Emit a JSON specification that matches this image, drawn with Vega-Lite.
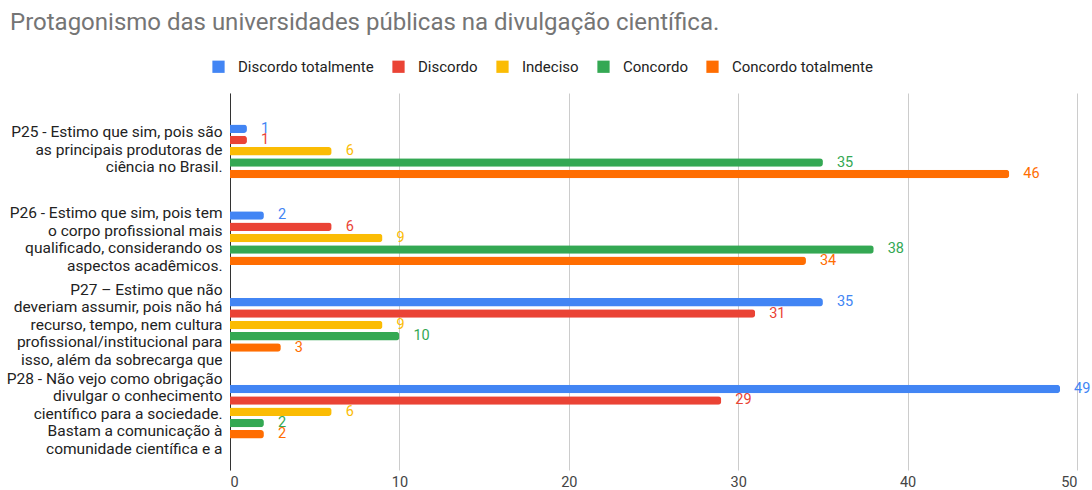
{
  "$schema": "https://vega.github.io/schema/vega-lite/v6.json",
  "width": 847,
  "height": 377,
  "autosize": "none",
  "padding": {"left": 230, "top": 93, "right": 15, "bottom": 20},
  "background": "white",
  "config": {
    "font": "Roboto",
    "view": {"stroke": null}
  },
  "title": {
    "text": "Protagonismo das universidades públicas na divulgação científica.",
    "anchor": "start",
    "frame": "group",
    "dx": -220,
    "offset": 24,
    "fontSize": 24,
    "fontWeight": "normal",
    "color": "#757575",
    "font": "Roboto"
  },
  "data": {
    "values": [
      {"q": "P25", "label": "P25 - Estimo que sim, pois são|as principais produtoras de|ciência no Brasil.", "cat": "Discordo totalmente", "o": 1, "v": 1},
      {"q": "P25", "label": "P25 - Estimo que sim, pois são|as principais produtoras de|ciência no Brasil.", "cat": "Discordo", "o": 2, "v": 1},
      {"q": "P25", "label": "P25 - Estimo que sim, pois são|as principais produtoras de|ciência no Brasil.", "cat": "Indeciso", "o": 3, "v": 6},
      {"q": "P25", "label": "P25 - Estimo que sim, pois são|as principais produtoras de|ciência no Brasil.", "cat": "Concordo", "o": 4, "v": 35},
      {"q": "P25", "label": "P25 - Estimo que sim, pois são|as principais produtoras de|ciência no Brasil.", "cat": "Concordo totalmente", "o": 5, "v": 46},
      {"q": "P26", "label": "P26 - Estimo que sim, pois tem|o corpo profissional mais|qualificado, considerando os|aspectos acadêmicos.", "cat": "Discordo totalmente", "o": 1, "v": 2},
      {"q": "P26", "label": "P26 - Estimo que sim, pois tem|o corpo profissional mais|qualificado, considerando os|aspectos acadêmicos.", "cat": "Discordo", "o": 2, "v": 6},
      {"q": "P26", "label": "P26 - Estimo que sim, pois tem|o corpo profissional mais|qualificado, considerando os|aspectos acadêmicos.", "cat": "Indeciso", "o": 3, "v": 9},
      {"q": "P26", "label": "P26 - Estimo que sim, pois tem|o corpo profissional mais|qualificado, considerando os|aspectos acadêmicos.", "cat": "Concordo", "o": 4, "v": 38},
      {"q": "P26", "label": "P26 - Estimo que sim, pois tem|o corpo profissional mais|qualificado, considerando os|aspectos acadêmicos.", "cat": "Concordo totalmente", "o": 5, "v": 34},
      {"q": "P27", "label": "P27 – Estimo que não|deveriam assumir, pois não há|recurso, tempo, nem cultura|profissional/institucional para|isso, além da sobrecarga que", "cat": "Discordo totalmente", "o": 1, "v": 35},
      {"q": "P27", "label": "P27 – Estimo que não|deveriam assumir, pois não há|recurso, tempo, nem cultura|profissional/institucional para|isso, além da sobrecarga que", "cat": "Discordo", "o": 2, "v": 31},
      {"q": "P27", "label": "P27 – Estimo que não|deveriam assumir, pois não há|recurso, tempo, nem cultura|profissional/institucional para|isso, além da sobrecarga que", "cat": "Indeciso", "o": 3, "v": 9},
      {"q": "P27", "label": "P27 – Estimo que não|deveriam assumir, pois não há|recurso, tempo, nem cultura|profissional/institucional para|isso, além da sobrecarga que", "cat": "Concordo", "o": 4, "v": 10},
      {"q": "P27", "label": "P27 – Estimo que não|deveriam assumir, pois não há|recurso, tempo, nem cultura|profissional/institucional para|isso, além da sobrecarga que", "cat": "Concordo totalmente", "o": 5, "v": 3},
      {"q": "P28", "label": "P28 - Não vejo como obrigação|divulgar o conhecimento|científico para a sociedade.|Bastam a comunicação à|comunidade científica e a", "cat": "Discordo totalmente", "o": 1, "v": 49},
      {"q": "P28", "label": "P28 - Não vejo como obrigação|divulgar o conhecimento|científico para a sociedade.|Bastam a comunicação à|comunidade científica e a", "cat": "Discordo", "o": 2, "v": 29},
      {"q": "P28", "label": "P28 - Não vejo como obrigação|divulgar o conhecimento|científico para a sociedade.|Bastam a comunicação à|comunidade científica e a", "cat": "Indeciso", "o": 3, "v": 6},
      {"q": "P28", "label": "P28 - Não vejo como obrigação|divulgar o conhecimento|científico para a sociedade.|Bastam a comunicação à|comunidade científica e a", "cat": "Concordo", "o": 4, "v": 2},
      {"q": "P28", "label": "P28 - Não vejo como obrigação|divulgar o conhecimento|científico para a sociedade.|Bastam a comunicação à|comunidade científica e a", "cat": "Concordo totalmente", "o": 5, "v": 2}
    ]
  },
  "encoding": {
    "y": {
      "field": "label",
      "type": "nominal",
      "sort": null,
      "title": null,
      "scale": {"paddingInner": 0.381, "paddingOuter": 0.362},
      "axis": {
        "labelExpr": "split(datum.label, '|')",
        "labelFontSize": 15.5,
        "labelColor": "#222222",
        "labelLineHeight": 17.5,
        "labelLimit": 300,
        "labelPadding": 8,
        "ticks": false,
        "domainColor": "#333333",
        "domainWidth": 1,
        "grid": false,
        "labelOffset": {
          "condition": [
            {"test": "indexof(datum.value, 'P25') == 0", "value": -19},
            {"test": "indexof(datum.value, 'P26') == 0", "value": -25},
            {"test": "indexof(datum.value, 'P27') == 0", "value": -35}
          ],
          "value": -33
        }
      }
    },
    "yOffset": {
      "field": "o",
      "type": "ordinal",
      "scale": {"paddingInner": 0.25, "paddingOuter": 0}
    },
    "x": {
      "field": "v",
      "type": "quantitative",
      "scale": {"domain": [0, 50], "nice": false},
      "title": null,
      "axis": {
        "values": [0, 10, 20, 30, 40, 50],
        "domain": false,
        "ticks": false,
        "gridColor": "#cccccc",
        "labelFontSize": 14.5,
        "labelColor": "#444444",
        "labelPadding": 5
      }
    },
    "color": {
      "field": "cat",
      "type": "nominal",
      "sort": ["Discordo totalmente", "Discordo", "Indeciso", "Concordo", "Concordo totalmente"],
      "scale": {
        "domain": ["Discordo totalmente", "Discordo", "Indeciso", "Concordo", "Concordo totalmente"],
        "range": ["#4285F4", "#EA4335", "#FBBC04", "#34A853", "#FF6D01"]
      },
      "legend": {
        "title": null,
        "orient": "none",
        "direction": "horizontal",
        "legendX": -19,
        "legendY": -34,
        "symbolType": "square",
        "symbolSize": 150,
        "symbolStrokeWidth": 0,
        "labelFontSize": 15,
        "labelColor": "#222222",
        "columnPadding": 17,
        "symbolOffset": 0,
        "labelOffset": 12
      }
    }
  },
  "layer": [
    {
      "mark": {"type": "bar", "cornerRadiusEnd": 3}
    },
    {
      "mark": {"type": "text", "align": "left", "baseline": "middle", "dx": 14, "fontSize": 14.5},
      "encoding": {"text": {"field": "v", "type": "quantitative"}}
    }
  ]
}
